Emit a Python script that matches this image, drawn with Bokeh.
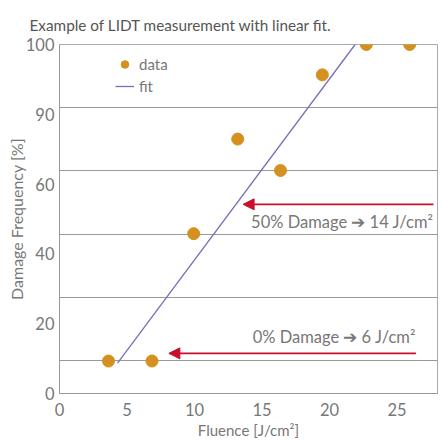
from bokeh.plotting import figure
from bokeh.models import (Range1d, FixedTicker, Legend, LegendItem, Arrow, NormalHead, Label)
from bokeh.embed import file_html
from bokeh.resources import INLINE

# ---- data ----
fluence = [3.63, 6.85, 9.94, 13.2, 16.37, 19.47, 22.73, 25.94]
damage = [9.3, 9.3, 45.8, 72.9, 63.9, 91.3, 100.0, 100.0]
fit_x = [4.3, 21.9]
fit_y = [8.7, 100.0]
x_ticks = [0, 5, 10, 15, 20, 25]
y_ticks = [0, 20, 40, 60, 80, 100]
y_tick_labels = ["0", "20", "40", "60", "90", "100"]
grid_levels = [9.5, 27.5, 45.7, 63.9, 82.0]
arrow_y = [54.2, 11.5]
arrow_x_start = [27.7, 26.4]
arrow_x_end = [13.6, 8.1]
note_texts = ["50% Damage \u2794 14 J/cm\u00b2", "0% Damage \u2794 6 J/cm\u00b2"]
note_x = [27.7, 26.4]
note_y = [49.1, 16.1]

FONT = "Lato"
DOT = "#D4911F"
FIT = "#7B6DB8"
RED = "#C8102E"
TXT = "#777777"

p = figure(width=443, height=441, x_range=Range1d(0, 28), y_range=Range1d(0, 100),
           output_backend="svg", toolbar_location=None,
           title="Example of LIDT measurement with linear fit.")
p.title.text_font = FONT
p.title.text_font_size = "15.3px"
p.title.text_font_style = "normal"
p.title.text_color = "#555555"
p.title.align = "left"
p.title.offset = -30
p.title.standoff = 22
p.min_border_left = 59
p.min_border_right = 6
p.min_border_top = 44
p.min_border_bottom = 48

p.outline_line_color = "#aaaaaa"
p.background_fill_color = "white"

for ax in (p.xaxis[0], p.yaxis[0]):
    ax.axis_line_color = "#999999"
    ax.major_tick_line_color = None
    ax.minor_tick_line_color = None
    ax.major_label_text_font = FONT
    ax.major_label_text_font_size = "16.5px"
    ax.major_label_text_color = TXT
    ax.axis_label_text_font = FONT
    ax.axis_label_text_font_style = "normal"
    ax.axis_label_text_color = TXT
    ax.major_tick_out = 0
    ax.major_tick_in = 0

p.xaxis.ticker = FixedTicker(ticks=x_ticks)
p.xaxis.axis_label = "Fluence [J/cm\u00b2]"
p.xaxis.axis_label_text_font_size = "15px"
p.xaxis.major_label_standoff = 9
p.xaxis.axis_label_standoff = 2

p.yaxis.ticker = FixedTicker(ticks=y_ticks)
p.yaxis.major_label_overrides = {t: l for t, l in zip(y_ticks, y_tick_labels)}
p.yaxis.axis_label = "Damage Frequency [%]"
p.yaxis.axis_label_text_font_size = "16px"
p.yaxis.major_label_standoff = 5
p.yaxis.axis_label_standoff = -3

p.xgrid.visible = False
p.ygrid.ticker = FixedTicker(ticks=grid_levels)
p.ygrid.grid_line_color = "#999999"
p.ygrid.grid_line_width = 1

fit_r = p.line(fit_x, fit_y, line_color=FIT, line_width=1.3)
dots = p.scatter(fluence, damage, size=12, fill_color=DOT, line_color=DOT)

for ys, xs, xe in zip(arrow_y, arrow_x_start, arrow_x_end):
    p.add_layout(Arrow(end=NormalHead(size=11, fill_color=RED, line_color=RED),
                       x_start=xs, y_start=ys, x_end=xe, y_end=ys,
                       line_color=RED, line_width=1.6))

for t, x, y in zip(note_texts, note_x, note_y):
    p.add_layout(Label(x=x, y=y, text=t, text_align="right", text_baseline="middle",
                       text_font=FONT, text_font_size="16.5px", text_color=TXT))

legend = Legend(items=[LegendItem(label="data", renderers=[dots]),
                       LegendItem(label="fit", renderers=[fit_r])],
                location=(56, 297), margin=0, padding=0, spacing=2,
                border_line_color=None, background_fill_alpha=0,
                label_text_font=FONT, label_text_font_size="15px",
                label_text_color=TXT, glyph_width=19, label_standoff=5)
p.add_layout(legend)

open("out.html", "w").write(file_html(p, INLINE))
